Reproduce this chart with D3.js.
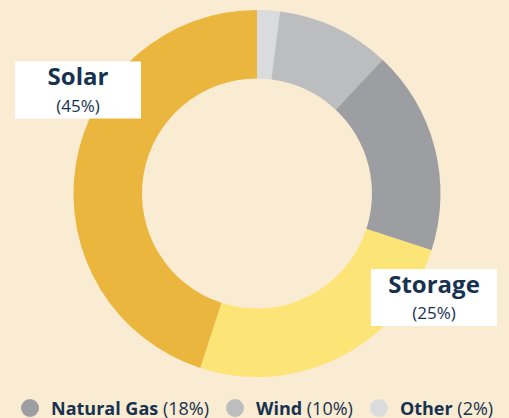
<!DOCTYPE html>
<html>
<head>
<meta charset="utf-8">
<script src="https://cdn.jsdelivr.net/npm/d3@7"></script>
<style>
  html, body { margin: 0; padding: 0; background: #faebd3; }
  svg { display: block; font-family: "Open Sans", sans-serif; }
</style>
</head>
<body>
<div id="chart"></div>
<script>
// Chart data
var sources = ["Other", "Wind", "Natural Gas", "Storage", "Solar"];
var shares = [2, 10, 18, 25, 45];
var colors = ["#dadbdc", "#bcbdbf", "#9d9ea1", "#fce476", "#ebb63e"];
var labelled = ["Solar", "Storage"];
var legendItems = ["Natural Gas", "Wind", "Other"];

var svgWidth = 509;
var svgHeight = 418;
var textColor = "#16324f";

var svg = d3.select("#chart")
  .append("svg")
  .attr("width", svgWidth)
  .attr("height", svgHeight);

svg.append("rect")
  .attr("width", svgWidth)
  .attr("height", svgHeight)
  .attr("fill", "#faebd3");

var cx = 257, cy = 193.5;
var outerR = 183.5, innerR = 115;

var data = sources.map(function(s, i) {
  return { name: s, value: shares[i], color: colors[i] };
});

var pie = d3.pie()
  .value(d => d.value)
  .sort(null);

var arc = d3.arc()
  .innerRadius(innerR)
  .outerRadius(outerR);

var chartGroup = svg.append("g")
  .attr("transform", `translate(${cx}, ${cy})`);

var arcs = pie(data);

chartGroup.selectAll("path")
  .data(arcs)
  .enter()
  .append("path")
  .attr("d", arc)
  .attr("fill", d => d.data.color);

// Label boxes for the two big slices
var boxPos = {
  "Solar": { x: 78, y: 90 },
  "Storage": { x: 434, y: 297.5 }
};

labelled.forEach(function(name) {
  var d = data.find(e => e.name === name);
  var p = boxPos[name];
  var g = svg.append("g").attr("transform", `translate(${p.x}, ${p.y})`);
  g.append("rect")
    .attr("x", -63)
    .attr("y", -28.5)
    .attr("width", 126)
    .attr("height", 57)
    .attr("fill", "#ffffff");
  g.append("text")
    .attr("text-anchor", "middle")
    .attr("y", -5)
    .attr("fill", textColor)
    .style("font-size", "24px")
    .style("font-weight", "700")
    .text(d.name);
  g.append("text")
    .attr("text-anchor", "middle")
    .attr("y", 21.5)
    .attr("fill", textColor)
    .style("font-size", "17px")
    .text(`(${d.value}%)`);
});

// Legend
var legend = svg.append("g");
var lx = 30;
legendItems.forEach(function(name) {
  var d = data.find(e => e.name === name);
  var item = legend.append("g").attr("transform", `translate(${lx}, 408)`);
  item.append("circle")
    .attr("r", 9)
    .attr("fill", d.color);
  var t = item.append("text")
    .attr("x", 21)
    .attr("y", 6.5)
    .attr("fill", textColor)
    .style("font-size", "18px");
  t.append("tspan").style("font-weight", "700").text(d.name);
  t.append("tspan").text(` (${d.value}%)`);
  lx += 21 + t.node().getComputedTextLength() + 26;
});
</script>
</body>
</html>
